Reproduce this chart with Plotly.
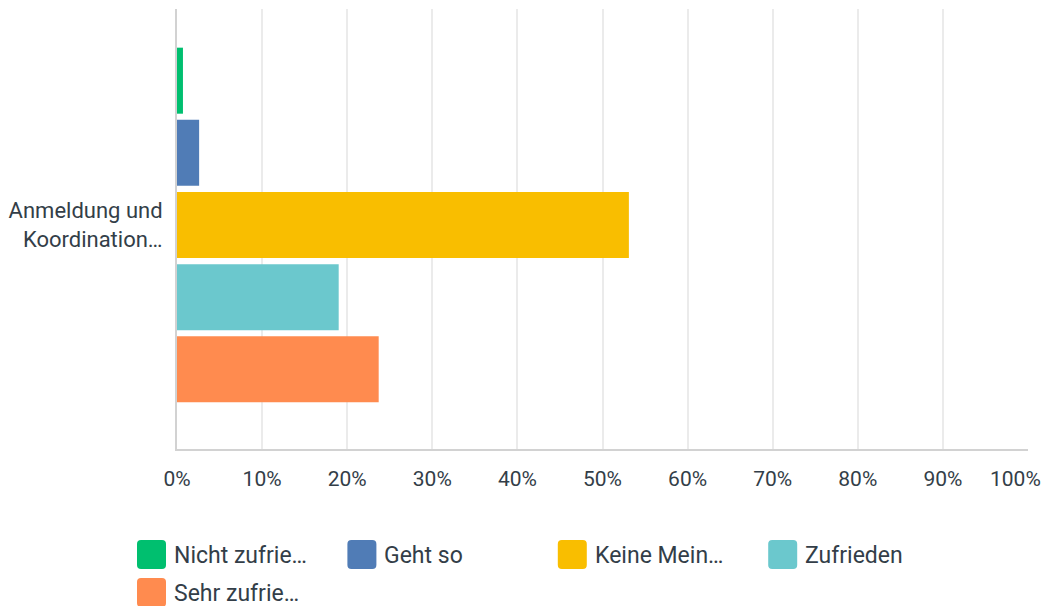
import plotly.graph_objects as go

# Survey question (single category) and answer shares in percent
categories = ["Anmeldung und<br>Koordination…"]
answer_labels = ["Nicht zufrie…", "Geht so", "Keine Mein…", "Zufrieden", "Sehr zufrie…"]
answer_values = [0.7, 2.6, 53.1, 19.0, 23.7]
answer_colors = ["#00BF6F", "#507CB6", "#F9BE00", "#6BC8CD", "#FF8B4F"]
tick_values = [0, 10, 20, 30, 40, 50, 60, 70, 80, 90, 100]
tick_labels = ["0%", "10%", "20%", "30%", "40%", "50%", "60%", "70%", "80%", "90%", "100%"]

TEXT = "#333E48"
FONT = "Roboto"
W, H = 1047, 606
ML, MR, MT, MB = 177, 19, 9, 157
PW, PH = W - ML - MR, H - MT - MB

fig = go.Figure()
for name, val, col in zip(answer_labels, answer_values, answer_colors):
    fig.add_trace(go.Bar(
        y=categories, x=[val], name=name, orientation="h",
        marker=dict(color=col, line=dict(width=0)),
        hoverinfo="skip", showlegend=False,
    ))

def px_x(p):
    return (p - ML) / PW

def px_y(p):
    return (H - MB - p) / PH

# Legend drawn as rounded swatches with labels beneath the plot
h, r = 14.5, 4
swatch = (f"M {-h + r},{-h} L {h - r},{-h} Q {h},{-h} {h},{-h + r} "
          f"L {h},{h - r} Q {h},{h} {h - r},{h} L {-h + r},{h} "
          f"Q {-h},{h} {-h},{h - r} L {-h},{-h + r} Q {-h},{-h} {-h + r},{-h} Z")
shapes, annotations = [], []
for i, (name, col) in enumerate(zip(answer_labels, answer_colors)):
    col_i, row_i = i % 4, i // 4
    cx = 137 + h + col_i * 210.4
    cy = 554.5 + row_i * 38
    shapes.append(dict(
        type="path", xref="paper", yref="paper",
        xsizemode="pixel", ysizemode="pixel",
        xanchor=px_x(cx), yanchor=px_y(cy), path=swatch,
        fillcolor=col, line=dict(width=0), layer="above",
    ))
    annotations.append(dict(
        xref="paper", yref="paper", x=px_x(cx + h + 6), y=px_y(cy + 1),
        xanchor="left", yanchor="middle", text=name, showarrow=False,
        font=dict(family=FONT, size=23, color=TEXT),
    ))

# The last tick label is right-aligned so it stays inside the page
shown_ticks = tick_labels[:-1] + [""]
annotations.append(dict(
    xref="paper", yref="paper", x=px_x(1043), y=px_y(479),
    xanchor="right", yanchor="middle", text=tick_labels[-1], showarrow=False,
    font=dict(family=FONT, size=21, color=TEXT),
))

shift = 4 / PH  # lift the bar group slightly within the category band

fig.update_layout(
    width=W, height=H,
    margin=dict(l=ML, r=MR, t=MT, b=MB, autoexpand=False),
    paper_bgcolor="white", plot_bgcolor="white",
    barmode="group", bargap=0.18, bargroupgap=0.085,
    font=dict(family=FONT, color=TEXT),
    shapes=shapes, annotations=annotations,
    xaxis=dict(
        range=[0, 100], tickmode="array", tickvals=tick_values, ticktext=shown_ticks,
        showgrid=True, gridcolor="#EBEBEB", gridwidth=2,
        zeroline=False, showline=True, linecolor="#D2D2D2", linewidth=2,
        ticks="", ticklabelstandoff=10,
        tickfont=dict(family=FONT, size=21, color=TEXT), fixedrange=True,
    ),
    yaxis=dict(
        range=[0.5 + shift, -0.5 + shift], showgrid=False, zeroline=False,
        showline=True, linecolor="#D2D2D2", linewidth=2,
        ticks="", ticklabelstandoff=8,
        tickfont=dict(family=FONT, size=22, color=TEXT), fixedrange=True,
    ),
)

fig.write_html("out.html")
